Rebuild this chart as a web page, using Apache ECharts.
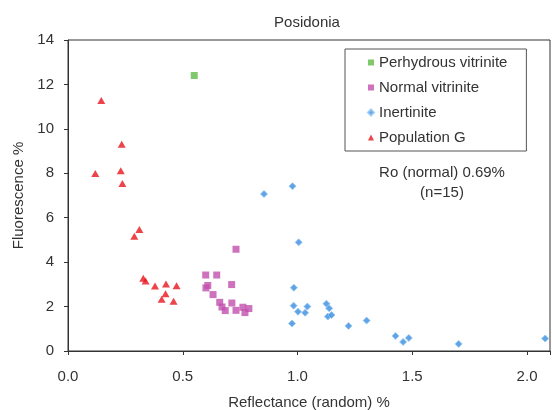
<!DOCTYPE html>
<html>
<head>
<meta charset="utf-8">
<script src="https://cdn.jsdelivr.net/npm/echarts@6/dist/echarts.min.js"></script>
<style>
  html, body { margin: 0; padding: 0; background: #fff; }
  #chart { width: 552px; height: 410px; }
</style>
</head>
<body>
<div id="chart"></div>
<script>
// Reflectance (random) % vs Fluorescence % for each maceral population
const perhydrousVitrinite = [[0.55, 12.4]];

const normalVitrinite = [
  [0.732, 4.58], [0.600, 3.42], [0.648, 3.42], [0.609, 2.95], [0.601, 2.84],
  [0.713, 2.99], [0.632, 2.54], [0.661, 2.19], [0.671, 1.98], [0.685, 1.82],
  [0.714, 2.16], [0.732, 1.83], [0.762, 1.97], [0.788, 1.91], [0.771, 1.73]
];

const inertinite = [
  [0.854, 7.07], [0.978, 7.42], [1.005, 4.89], [0.984, 2.85], [0.983, 2.04],
  [1.002, 1.77], [1.033, 1.72], [1.043, 2.00], [0.976, 1.24], [1.126, 2.13],
  [1.138, 1.92], [1.132, 1.55], [1.148, 1.62], [1.222, 1.13], [1.301, 1.37],
  [1.427, 0.68], [1.460, 0.41], [1.485, 0.59], [1.702, 0.32], [2.079, 0.56]
];

const populationG = [
  [0.145, 11.28], [0.234, 9.31], [0.119, 7.99], [0.230, 8.11], [0.237, 7.54],
  [0.311, 5.47], [0.289, 5.17], [0.328, 3.27], [0.338, 3.15], [0.379, 2.93],
  [0.427, 3.02], [0.473, 2.94], [0.425, 2.58], [0.408, 2.33], [0.460, 2.24]
];

const xTicks = { min: 0, max: 2.1, interval: 0.5 };
const yTicks = { min: 0, max: 14, interval: 2 };

const FONT = '"Liberation Sans", Arial, sans-serif';
const TEXT = '#333333';
const AXIS = '#333333';

const chart = echarts.init(document.getElementById('chart'), null, { renderer: 'canvas' });

chart.setOption({
  animation: false,
  backgroundColor: '#ffffff',
  title: {
    text: 'Posidonia',
    left: 302, top: 10, textAlign: 'center',
    textStyle: { fontFamily: FONT, fontSize: 15, fontWeight: 'normal', color: TEXT }
  },
  grid: {
    left: 68, right: 2, top: 40, bottom: 59,
    outerBoundsMode: 'none',
    containLabel: false,
    show: true, borderColor: AXIS, borderWidth: 1, backgroundColor: 'transparent'
  },
  legend: {
    orient: 'vertical',
    left: 345, top: 49,
    padding: [6, 19, 6, 22],
    itemGap: 10,
    itemWidth: 6, itemHeight: 6,
    borderColor: '#555', borderWidth: 1,
    textStyle: { fontFamily: FONT, fontSize: 15, color: TEXT, lineHeight: 15 },
    data: ['Perhydrous vitrinite', 'Normal vitrinite', 'Inertinite', 'Population G']
  },
  xAxis: {
    type: 'value',
    min: xTicks.min, max: xTicks.max, interval: xTicks.interval,
    name: 'Reflectance (random) %',
    nameLocation: 'middle', nameGap: 44,
    nameTextStyle: { fontFamily: FONT, fontSize: 15, color: TEXT },
    axisLine: { show: true, lineStyle: { color: AXIS, width: 1 } },
    axisTick: { show: true, inside: false, length: 4, lineStyle: { color: AXIS } },
    axisLabel: {
      fontFamily: FONT, fontSize: 15, color: TEXT, margin: 18,
      formatter: v => (v > 2.05 ? '' : v.toFixed(1))
    },
    splitLine: { show: false }
  },
  yAxis: {
    type: 'value',
    min: yTicks.min, max: yTicks.max, interval: yTicks.interval,
    name: 'Fluorescence %',
    nameLocation: 'middle', nameGap: 40, nameRotate: 90,
    nameTextStyle: { fontFamily: FONT, fontSize: 15, color: TEXT },
    axisLine: { show: true, lineStyle: { color: AXIS, width: 1 } },
    axisTick: { show: true, inside: false, length: 4, lineStyle: { color: AXIS } },
    axisLabel: { fontFamily: FONT, fontSize: 15, color: TEXT, margin: 14 },
    splitLine: { show: false }
  },
  graphic: [
    {
      type: 'text', x: 442, y: 163,
      style: {
        text: 'Ro (normal) 0.69%\n(n=15)',
        align: 'center', verticalAlign: 'top',
        font: '15px ' + FONT, fill: TEXT, lineHeight: 20
      }
    }
  ],
  series: [
    {
      name: 'Perhydrous vitrinite', type: 'scatter', data: perhydrousVitrinite,
      symbol: 'rect', symbolSize: 7,
      itemStyle: { color: '#5fba46' }
    },
    {
      name: 'Normal vitrinite', type: 'scatter', data: normalVitrinite,
      symbol: 'rect', symbolSize: 7,
      itemStyle: { color: '#c24fae' }
    },
    {
      name: 'Inertinite', type: 'scatter', data: inertinite,
      symbol: 'diamond', symbolSize: 7,
      itemStyle: { color: '#3a8de0', borderColor: '#92c6f2', borderWidth: 1 }
    },
    {
      name: 'Population G', type: 'scatter', data: populationG,
      symbol: 'triangle', symbolSize: [8, 7],
      itemStyle: { color: '#e8141c' }
    }
  ]
});
</script>
</body>
</html>
